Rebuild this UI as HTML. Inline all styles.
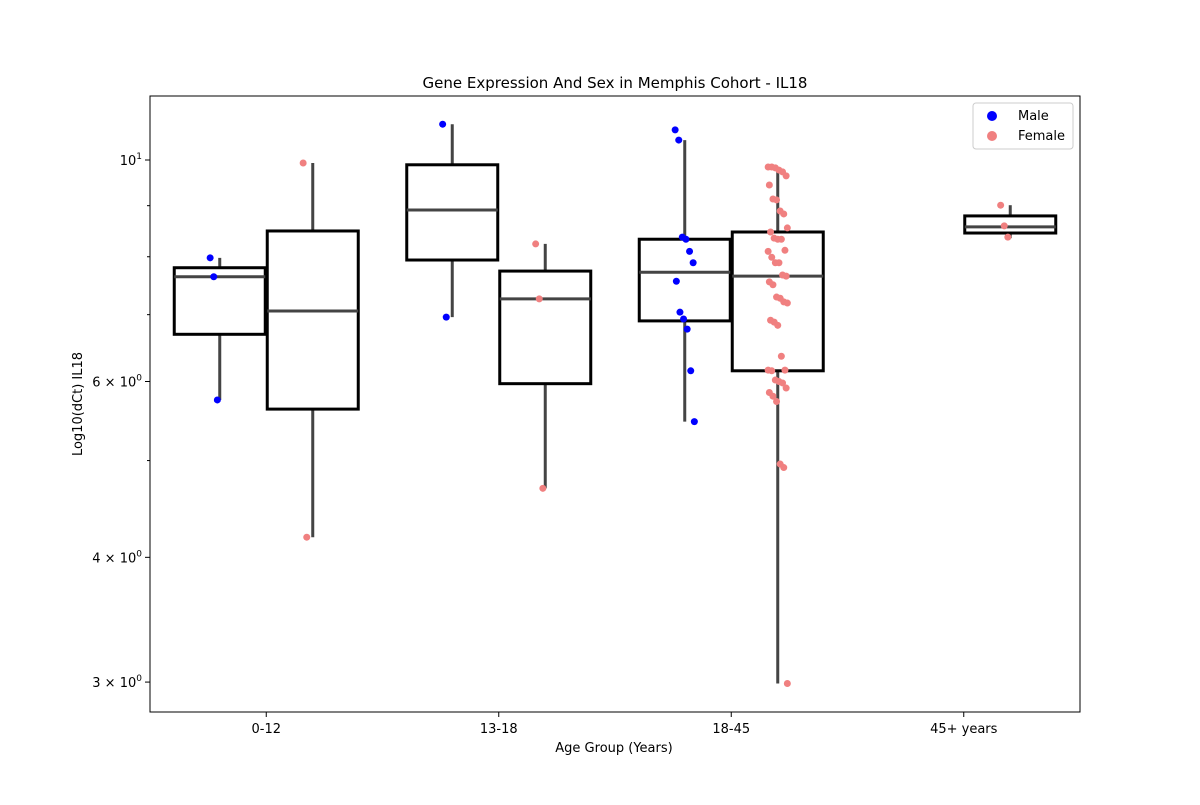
<!DOCTYPE html>
<html><head><meta charset="utf-8"><style>
body{margin:0;background:#fff;font-family:"Liberation Sans","DejaVu Sans",sans-serif}
svg text{font-family:"DejaVu Sans","Liberation Sans",sans-serif}
</style></head><body>
<svg id="chart" width="1200" height="800">
<rect width="1200" height="800" fill="#fff"/>
<text x="615" y="88" font-size="15" text-anchor="middle">Gene Expression And Sex in Memphis Cohort - IL18</text>
<text x="614" y="752" font-size="13" text-anchor="middle">Age Group (Years)</text>
<text transform="translate(82,404) rotate(-90)" font-size="13" text-anchor="middle">Log10(dCt) IL18</text>
<g id="boxes"></g><g id="pts"></g><g id="axes"></g>
<g>
<rect x="973" y="103" width="100" height="46" fill="#fff" stroke="#ccc" rx="3"/>
<circle cx="992" cy="116" r="5" fill="blue"/>
<text x="1018" y="120" font-size="13">Male</text>
<circle cx="992" cy="136" r="5" fill="#f08080"/>
<text x="1018" y="140" font-size="13">Female</text>
</g>
</svg>
<script>
const categories=["0-12","13-18","18-45","45+ years"];
const hues=["Male","Female"];
// box stats [cat, hue, lo, q1, med, q3, hi]
const boxStats=[
[0,0,5.75,6.69,7.64,7.80,7.98],
[0,1,4.19,5.63,7.06,8.49,9.93],
[1,0,6.96,7.94,8.91,9.89,10.86],
[1,1,4.69,5.97,7.26,7.74,8.24],
[2,0,5.47,6.90,7.72,8.33,10.47],
[2,1,2.99,6.15,7.65,8.47,9.84],
[3,1,8.35,8.45,8.57,8.79,9.01]];
const male012=[7.98,7.64,5.75];
const female012=[9.93,4.19];
const male1318=[10.86,6.96];
const female1318=[8.24,7.26,4.69];
const male1845=[10.72,10.47,8.37,8.33,8.10,7.89,7.56,7.04,6.93,6.77,6.15,5.47];
const female1845=[9.84,9.84,9.82,9.77,9.73,9.64,9.44,9.14,9.12,8.89,8.83,8.55,8.47,8.35,8.33,8.33,8.12,8.10,7.99,7.89,7.89,7.67,7.65,7.55,7.50,7.29,7.27,7.21,7.19,6.91,6.88,6.83,6.36,6.16,6.16,6.15,6.02,6.00,5.98,5.91,5.85,5.80,5.73,4.96,4.92,2.99];
const female45=[9.01,8.59,8.37];
const yTicks=[10,6,4,3];
const yTickLabels=[["10","1"],["6 × 10","0"],["4 × 10","0"],["3 × 10","0"]];
const yMinor=[9,8,7,5];

const NS="http://www.w3.org/2000/svg";
const L=150,R=1080,T=96,B=712;
const yLo=Math.log10(2.80),yHi=Math.log10(11.59);
const y=v=>B-(Math.log10(v)-yLo)/(yHi-yLo)*(B-T);
const band=(R-L)/categories.length;
const xc=i=>L+band*(i+0.5);
const hueOff=[-46.5,46.5], bw=91;
function mk(tag,attrs,parent){const e=document.createElementNS(NS,tag);for(const k in attrs)e.setAttribute(k,attrs[k]);parent.appendChild(e);return e;}
const gb=document.getElementById('boxes'),gp=document.getElementById('pts'),ga=document.getElementById('axes');
boxStats.forEach(s=>{
  const cx=xc(s[0])+hueOff[s[1]];
  const g=mk('g',{},gb);
  
  
  mk('line',{x1:cx,x2:cx,y1:y(s[6]),y2:y(s[2]),stroke:'#444','stroke-width':3},g);
  mk('rect',{x:cx-bw/2,y:y(s[5]),width:bw,height:y(s[3])-y(s[5]),fill:'#fff',stroke:'#000','stroke-width':3},g);
  mk('line',{x1:cx-bw/2,x2:cx+bw/2,y1:y(s[4]),y2:y(s[4]),stroke:'#444','stroke-width':3},g);
});
const sets=[[0,0,male012],[0,1,female012],[1,0,male1318],[1,1,female1318],[2,0,male1845],[2,1,female1845],[3,1,female45]];
sets.forEach(([c,h,vals])=>{
  vals.forEach((v,i)=>{
    const j=((i*37)%17-8)*1.2;
    const p=mk('circle',{cx:xc(c)+hueOff[h]+j,cy:y(v),r:3.5,fill:h?'#f08080':'blue'},gp);
    
    
  });
});
mk('rect',{x:L,y:T,width:R-L,height:B-T,fill:'none',stroke:'#000','stroke-width':1},ga);
categories.forEach((c,i)=>{
  mk('line',{x1:xc(i),x2:xc(i),y1:B,y2:B+5,stroke:'#000'},ga);
  const t=mk('text',{x:xc(i),y:B+21,'font-size':13,'text-anchor':'middle'},ga);t.textContent=c;
  
  
});
yTicks.forEach((v,i)=>{
  mk('line',{x1:L-5,x2:L,y1:y(v),y2:y(v),stroke:'#000'},ga);
  const t=mk('text',{x:L-8,y:y(v)+5,'font-size':13,'text-anchor':'end'},ga);
  
  
  const a=mk('tspan',{},t);a.textContent=yTickLabels[i][0];
  const b=mk('tspan',{dy:-6,'font-size':9},t);b.textContent=yTickLabels[i][1];
});
yMinor.forEach(v=>mk('line',{x1:L-3,x2:L,y1:y(v),y2:y(v),stroke:'#000'},ga));
</script>
</body></html>
